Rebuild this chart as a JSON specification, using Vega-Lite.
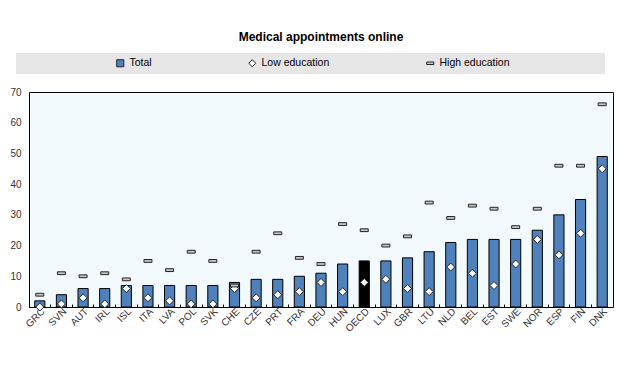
{
  "$schema": "https://vega.github.io/schema/vega-lite/v6.json",
  "width": 584,
  "height": 215,
  "autosize": "none",
  "padding": {"left": 29, "top": 92, "right": 7, "bottom": 61},
  "background": "white",
  "title": {
    "text": "Medical appointments online",
    "fontSize": 12,
    "fontWeight": "bold",
    "font": "Liberation Sans Narrow, Liberation Sans",
    "color": "#000000",
    "anchor": "middle",
    "offset": 9
  },
  "config": {
    "view": {"stroke": "#000000", "strokeWidth": 1, "fill": "#f2fafd"},
    "font": "Liberation Sans Narrow, Liberation Sans",
    "legend": {
      "titleOrient": "right",
      "titlePadding": 90,
      "orient": "none",
      "legendX": -13,
      "legendY": -39,
      "direction": "horizontal",
      "gridAlign": "none",
      "fillColor": "#e6e6e6",
      "padding": 5,
      "symbolOffset": 94,
      "columnPadding": 1,
      "labelFontSize": 10.5,
      "labelColor": "#000000",
      "symbolSize": 50,
      "symbolStrokeColor": "#222222",
      "symbolStrokeWidth": 1
    }
  },
  "data": {
    "values": [
      {"country": "GRC", "Total": 2, "Low education": 0, "High education": 4},
      {"country": "SVN", "Total": 4, "Low education": 1, "High education": 11},
      {"country": "AUT", "Total": 6, "Low education": 3, "High education": 10},
      {"country": "IRL", "Total": 6, "Low education": 1, "High education": 11},
      {"country": "ISL", "Total": 7, "Low education": 6, "High education": 9},
      {"country": "ITA", "Total": 7, "Low education": 3, "High education": 15},
      {"country": "LVA", "Total": 7, "Low education": 2, "High education": 12},
      {"country": "POL", "Total": 7, "Low education": 1, "High education": 18},
      {"country": "SVK", "Total": 7, "Low education": 1, "High education": 15},
      {"country": "CHE", "Total": 8, "Low education": 6, "High education": 7},
      {"country": "CZE", "Total": 9, "Low education": 3, "High education": 18},
      {"country": "PRT", "Total": 9, "Low education": 4, "High education": 24},
      {"country": "FRA", "Total": 10, "Low education": 5, "High education": 16},
      {"country": "DEU", "Total": 11, "Low education": 8, "High education": 14},
      {"country": "HUN", "Total": 14, "Low education": 5, "High education": 27},
      {"country": "OECD", "Total": 15, "Low education": 8, "High education": 25},
      {"country": "LUX", "Total": 15, "Low education": 9, "High education": 20},
      {"country": "GBR", "Total": 16, "Low education": 6, "High education": 23},
      {"country": "LTU", "Total": 18, "Low education": 5, "High education": 34},
      {"country": "NLD", "Total": 21, "Low education": 13, "High education": 29},
      {"country": "BEL", "Total": 22, "Low education": 11, "High education": 33},
      {"country": "EST", "Total": 22, "Low education": 7, "High education": 32},
      {"country": "SWE", "Total": 22, "Low education": 14, "High education": 26},
      {"country": "NOR", "Total": 25, "Low education": 22, "High education": 32},
      {"country": "ESP", "Total": 30, "Low education": 17, "High education": 46},
      {"country": "FIN", "Total": 35, "Low education": 24, "High education": 46},
      {"country": "DNK", "Total": 49, "Low education": 45, "High education": 66}
    ]
  },
  "transform": [
    {"fold": ["Total", "Low education", "High education"], "as": ["series", "value"]}
  ],
  "encoding": {
    "x": {
      "field": "country",
      "type": "nominal",
      "sort": null,
      "scale": {"paddingInner": 0, "paddingOuter": 0},
      "axis": {
        "title": null,
        "labelAngle": -45,
        "labelFontSize": 10,
        "labelColor": "#333333",
        "labelPadding": 2,
        "bandPosition": 0,
        "tickSize": -3,
        "tickColor": "#000000",
        "domain": false
      }
    },
    "y": {
      "field": "value",
      "type": "quantitative",
      "scale": {"domain": [0, 70], "nice": false},
      "axis": {
        "title": null,
        "values": [0, 10, 20, 30, 40, 50, 60, 70],
        "grid": false,
        "ticks": false,
        "domain": false,
        "labelFontSize": 10,
        "labelColor": "#333333",
        "labelPadding": 8
      }
    }
  },
  "layer": [
    {
      "transform": [{"filter": "datum.series === 'Total'"}],
      "mark": {"type": "bar", "width": {"band": 0.47}, "stroke": "#000000", "strokeWidth": 1},
      "encoding": {
        "fill": {
          "condition": {"test": "datum.country === 'OECD'", "value": "#000000"},
          "field": "series",
          "type": "nominal",
          "scale": {"domain": ["Total", "Low education", "High education"], "range": ["#4f81bd", "#ffffff", "#c8c8c8"]},
          "title": " "
        }
      }
    },
    {
      "transform": [{"filter": "datum.series !== 'Total'"}],
      "mark": {"type": "point", "filled": true, "stroke": "#222222", "strokeWidth": 1, "opacity": 1},
      "encoding": {
        "fill": {
          "field": "series",
          "type": "nominal",
          "scale": {"domain": ["Total", "Low education", "High education"], "range": ["#4f81bd", "#ffffff", "#c8c8c8"]},
          "title": " "
        },
        "shape": {
          "field": "series",
          "type": "nominal",
          "scale": {"domain": ["Total", "Low education", "High education"], "range": ["square", "diamond", "M-1,-0.35L1,-0.35L1,0.35L-1,0.35Z"]},
          "title": " "
        },
        "size": {"value": 64}
      }
    }
  ]
}
